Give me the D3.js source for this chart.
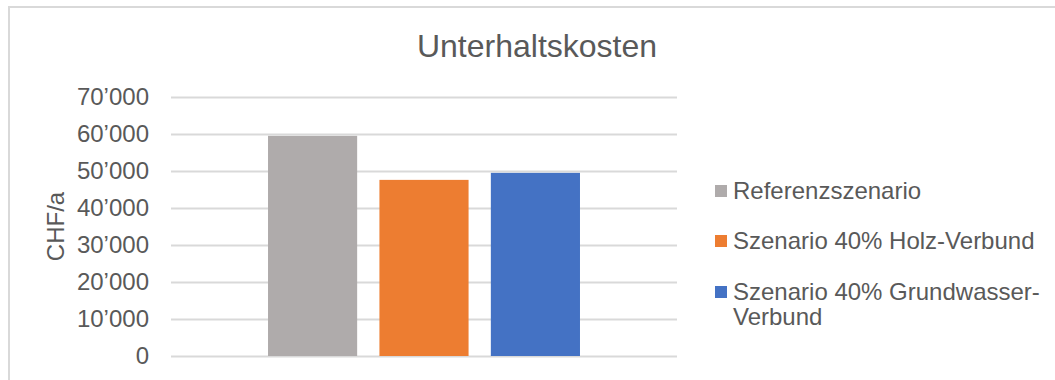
<!DOCTYPE html>
<html>
<head>
<meta charset="utf-8">
<script src="https://cdn.jsdelivr.net/npm/d3@7"></script>
<style>
	body { margin: 0; background: #fff; }
	text { font-family: "Liberation Sans", Arial, sans-serif; fill: #595959; }
</style>
</head>
<body>
<div id="chart"></div>
<script>
// data
const categories = ['Referenzszenario', 'Szenario 40% Holz-Verbund', 'Szenario 40% Grundwasser-Verbund'];
const values = [59500, 47600, 49500];
const colors = ['#afabab', '#ed7d31', '#4472c4'];
const legendLines = [['Referenzszenario'], ['Szenario 40% Holz-Verbund'], ['Szenario 40% Grundwasser-', 'Verbund']];
const tickValues = [0, 10000, 20000, 30000, 40000, 50000, 60000, 70000];

const W = 1055, H = 380;
const plot = { left: 171, right: 677, top: 97, bottom: 356 };

const svg = d3.select('#chart').append('svg')
	.attr('width', W)
	.attr('height', H);

// chart border
svg.append('rect')
	.attr('x', 9).attr('y', 7)
	.attr('width', W + 20).attr('height', H + 20)
	.attr('fill', 'none')
	.attr('stroke', '#d9d9d9')
	.attr('stroke-width', 2);

// title
svg.append('text')
	.attr('x', 537).attr('y', 57)
	.attr('text-anchor', 'middle')
	.style('font-size', '32px')
	.text('Unterhaltskosten');

const y = d3.scaleLinear().domain([0, 70000]).range([plot.bottom, plot.top]);
// single category group, three series bars
const x0 = d3.scaleBand().domain(['g']).range([plot.left, plot.right]).paddingInner(0).paddingOuter(0.311);
const x1 = d3.scaleBand().domain(categories).range([0, x0.bandwidth()]).paddingInner(0.2);

const fmt = v => d3.format(',')(v).replace(/,/g, '\u2019');

// y axis with gridlines
const yAxis = d3.axisLeft(y)
	.tickValues(tickValues)
	.tickSize(-(plot.right - plot.left))
	.tickPadding(22)
	.tickFormat(fmt);

svg.append('g')
	.attr('transform', 'translate(' + plot.left + ',0)')
	.call(yAxis)
	.call(g => {
		g.select('.domain').remove();
		g.selectAll('.tick line').attr('stroke', '#d9d9d9').attr('stroke-width', 2);
		g.selectAll('.tick text')
			.attr('fill', '#595959')
			.style('font-size', '24px')
			.style('font-family', '"Liberation Sans", Arial, sans-serif');
	});

// axis title
svg.append('text')
	.attr('transform', 'translate(64,' + ((plot.top + plot.bottom) / 2) + ') rotate(-90)')
	.attr('text-anchor', 'middle')
	.style('font-size', '24px')
	.text('CHF/a');

// bars
svg.append('g')
	.selectAll('rect')
	.data(values)
	.enter()
	.append('rect')
	.attr('x', (d, i) => x0('g') + x1(categories[i]))
	.attr('y', d => y(d))
	.attr('width', x1.bandwidth())
	.attr('height', d => y(0) - y(d))
	.attr('fill', (d, i) => colors[i]);

// legend
const legendY = [191, 241, 292];
const legend = svg.append('g').selectAll('g')
	.data(legendLines)
	.enter()
	.append('g')
	.attr('transform', (d, i) => 'translate(715,' + legendY[i] + ')');

legend.append('rect')
	.attr('x', 0).attr('y', -6)
	.attr('width', 12).attr('height', 12)
	.attr('fill', (d, i) => colors[i]);

legend.append('text')
	.attr('x', 18)
	.attr('y', 8)
	.style('font-size', '24px')
	.selectAll('tspan')
	.data(d => d)
	.enter()
	.append('tspan')
	.attr('x', 18)
	.attr('dy', (d, i) => i === 0 ? 0 : 25)
	.text(d => d);
</script>
</body>
</html>
